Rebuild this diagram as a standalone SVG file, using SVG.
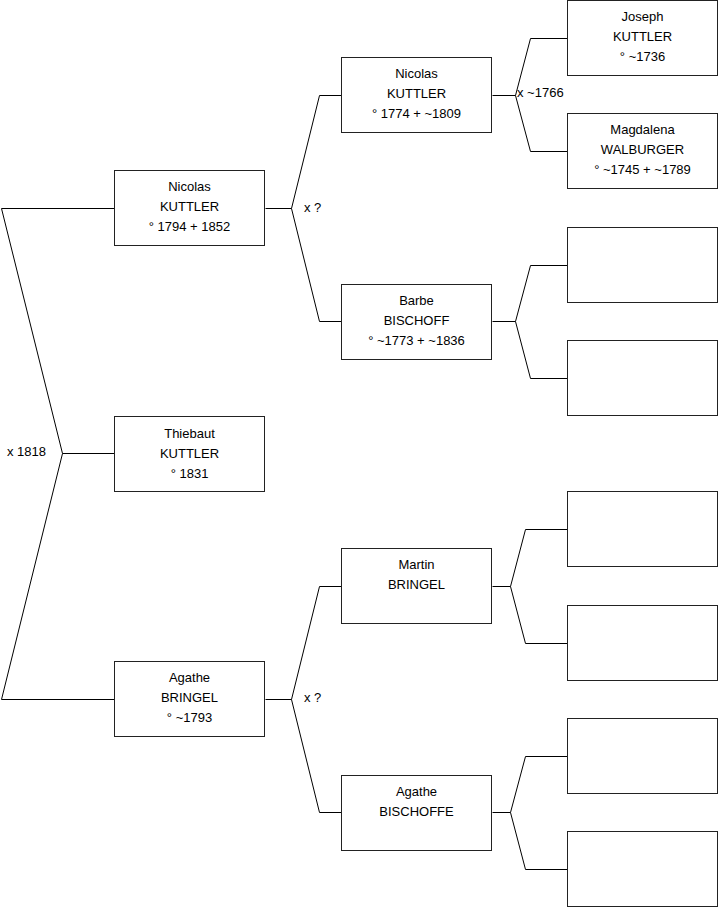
<svg xmlns="http://www.w3.org/2000/svg" width="719" height="908" viewBox="0 0 719 908">
<style>
.box{fill:#fff;stroke:#222;stroke-width:1}
.c{fill:none;stroke:#000;stroke-width:1}
text{font-family:"Liberation Sans",Arial,sans-serif;font-size:13px;fill:#000}
.t{text-anchor:middle}
</style>
<rect width="719" height="908" fill="#fff"/>
<g id="connectors">
<path class="c" d="M114.5,208.5 H1.5 L62.5,453.5 L1.5,699.5 H114.5 M62.5,453.5 H114.5"/>
<path class="c" d="M265.5,208.5 H291.5 M341.5,95.5 H319.5 L291.5,208.5 L319.5,321.5 H341.5"/>
<path class="c" d="M265.5,699.5 H291.5 M341.5,586.5 H319.5 L291.5,699.5 L319.5,812.5 H341.5"/>
<path class="c" d="M492.5,95.5 H515.5 M567.5,38.5 H530.5 L515.5,95.5 L530.5,151.5 H567.5"/>
<path class="c" d="M492.5,321.5 H515.5 M567.5,265.5 H530.5 L515.5,321.5 L530.5,378.5 H567.5"/>
<path class="c" d="M492.5,586.5 H510.5 M567.5,529.5 H525.5 L510.5,586.5 L525.5,643.5 H567.5"/>
<path class="c" d="M492.5,812.5 H510.5 M567.5,756.5 H525.5 L510.5,812.5 L525.5,869.5 H567.5"/>
<text x="7" y="456">x 1818</text>
<text x="304" y="212">x ?</text>
<text x="304" y="702">x ?</text>
<text x="517" y="97">x ~1766</text>
</g>
<g id="n-nicolas1794">
<rect class="box" x="114.5" y="170.5" width="150" height="75"/>
<text class="t" x="189.5" y="191">Nicolas</text>
<text class="t" x="189.5" y="211">KUTTLER</text>
<text class="t" x="189.5" y="231">° 1794 + 1852</text>
</g>
<g id="n-thiebaut">
<rect class="box" x="114.5" y="416.5" width="150" height="75"/>
<text class="t" x="189.5" y="438">Thiebaut</text>
<text class="t" x="189.5" y="458">KUTTLER</text>
<text class="t" x="189.5" y="478">° 1831</text>
</g>
<g id="n-agathe1793">
<rect class="box" x="114.5" y="661.5" width="150" height="75"/>
<text class="t" x="189.5" y="682">Agathe</text>
<text class="t" x="189.5" y="702">BRINGEL</text>
<text class="t" x="189.5" y="722">° ~1793</text>
</g>
<g id="n-nicolas1774">
<rect class="box" x="341.5" y="57.5" width="150" height="75"/>
<text class="t" x="416.5" y="78">Nicolas</text>
<text class="t" x="416.5" y="98">KUTTLER</text>
<text class="t" x="416.5" y="118">° 1774 + ~1809</text>
</g>
<g id="n-barbe">
<rect class="box" x="341.5" y="284.5" width="150" height="75"/>
<text class="t" x="416.5" y="305">Barbe</text>
<text class="t" x="416.5" y="325">BISCHOFF</text>
<text class="t" x="416.5" y="345">° ~1773 + ~1836</text>
</g>
<g id="n-martin">
<rect class="box" x="341.5" y="548.5" width="150" height="75"/>
<text class="t" x="416.5" y="569">Martin</text>
<text class="t" x="416.5" y="589">BRINGEL</text>
</g>
<g id="n-agathebischoffe">
<rect class="box" x="341.5" y="775.5" width="150" height="75"/>
<text class="t" x="416.5" y="796">Agathe</text>
<text class="t" x="416.5" y="816">BISCHOFFE</text>
</g>
<g id="n-joseph">
<rect class="box" x="567.5" y="0.5" width="150" height="75"/>
<text class="t" x="642.5" y="21">Joseph</text>
<text class="t" x="642.5" y="41">KUTTLER</text>
<text class="t" x="642.5" y="61">° ~1736</text>
</g>
<g id="n-magdalena">
<rect class="box" x="567.5" y="113.5" width="150" height="75"/>
<text class="t" x="642.5" y="134">Magdalena</text>
<text class="t" x="642.5" y="154">WALBURGER</text>
<text class="t" x="642.5" y="174">° ~1745 + ~1789</text>
</g>
<g id="n-empty1"><rect class="box" x="567.5" y="227.5" width="150" height="75"/></g>
<g id="n-empty2"><rect class="box" x="567.5" y="340.5" width="150" height="75"/></g>
<g id="n-empty3"><rect class="box" x="567.5" y="491.5" width="150" height="75"/></g>
<g id="n-empty4"><rect class="box" x="567.5" y="605.5" width="150" height="75"/></g>
<g id="n-empty5"><rect class="box" x="567.5" y="718.5" width="150" height="75"/></g>
<g id="n-empty6"><rect class="box" x="567.5" y="831.5" width="150" height="75"/></g>
</svg>
